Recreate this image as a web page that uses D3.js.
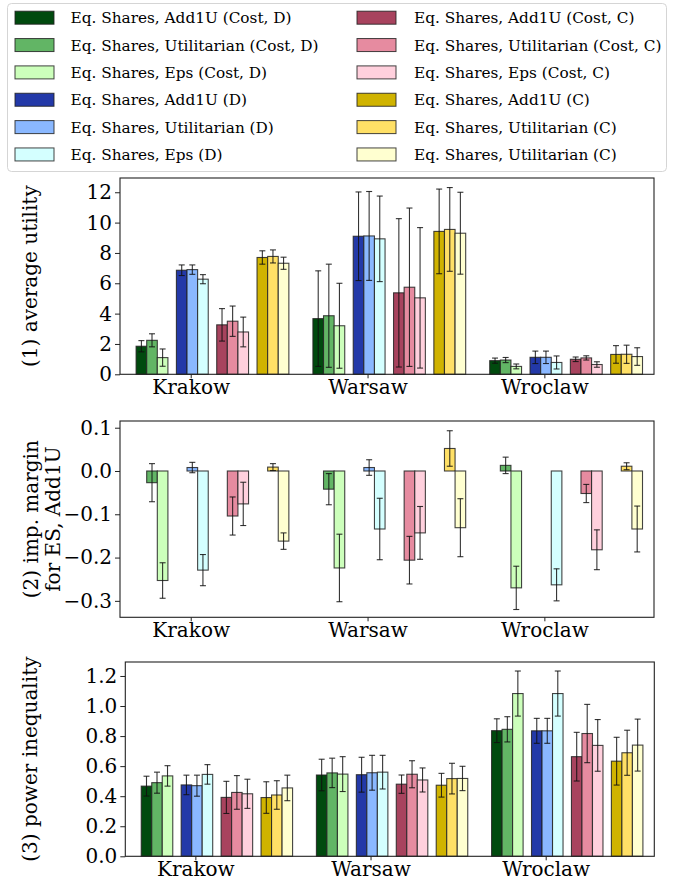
<!DOCTYPE html>
<html>
<head>
<meta charset="utf-8">
<script src="https://cdn.jsdelivr.net/npm/d3@7"></script>
<style>
  body { margin: 0; background: #fff; }
</style>
</head>
<body>
<script>
// cities on the x axis
var cities = ["Krakow", "Warsaw", "Wroclaw"];

var seriesNames = [
  "Eq. Shares, Add1U (Cost, D)", "Eq. Shares, Utilitarian (Cost, D)", "Eq. Shares, Eps (Cost, D)",
  "Eq. Shares, Add1U (D)", "Eq. Shares, Utilitarian (D)", "Eq. Shares, Eps (D)",
  "Eq. Shares, Add1U (Cost, C)", "Eq. Shares, Utilitarian (Cost, C)", "Eq. Shares, Eps (Cost, C)",
  "Eq. Shares, Add1U (C)", "Eq. Shares, Utilitarian (C)", "Eq. Shares, Utilitarian (C)"
];

var seriesColors = [
  "#004a0e", "#62b565", "#ccffbb",
  "#2339a8", "#8ab8ff", "#d4ffff",
  "#a8435e", "#e68ba0", "#ffd0dd",
  "#d0b300", "#ffe066", "#ffffd0"
];

// (1) average utility, one row per series, one value per city
var utilityMean = [
  [1.85, 3.67, 0.9], [2.24, 3.86, 0.94], [1.1, 3.2, 0.52],
  [6.86, 9.1, 1.12], [6.9, 9.12, 1.12], [6.27, 8.93, 0.78],
  [3.26, 5.37, 0.99], [3.5, 5.74, 1.08], [2.79, 5.04, 0.645],
  [7.7, 9.42, 1.31], [7.77, 9.55, 1.32], [7.32, 9.3, 1.17]
];
var utilityErr = [
  [0.37, 3.15, 0.17], [0.43, 3.4, 0.17], [0.57, 2.8, 0.16],
  [0.35, 2.92, 0.41], [0.31, 2.93, 0.41], [0.3, 2.82, 0.43],
  [1.07, 4.89, 0.15], [1.0, 5.22, 0.14], [0.98, 4.63, 0.18],
  [0.44, 2.79, 0.58], [0.43, 2.76, 0.6], [0.4, 2.7, 0.58]
];

// (2) improvement margin vs ES Add1U (Add1U rows are not drawn)
var marginMean = [
  null, [-0.027, -0.042, 0.013], [-0.253, -0.224, -0.27],
  null, [0.008, 0.008, 0.0], [-0.229, -0.134, -0.263],
  null, [-0.104, -0.206, -0.052], [-0.076, -0.143, -0.182],
  null, [0.009, 0.052, 0.011], [-0.162, -0.131, -0.134]
];
var marginErr = [
  null, [0.044, 0.036, 0.019], [0.041, 0.078, 0.05],
  null, [0.012, 0.018, null], [0.036, 0.071, 0.037],
  null, [0.044, 0.055, 0.021], [0.05, 0.061, 0.046],
  null, [0.008, 0.041, 0.008], [0.019, 0.067, 0.053]
];

// (3) power inequality
var inequalityMean = [
  [0.467, 0.541, 0.836], [0.49, 0.555, 0.845], [0.535, 0.547, 1.083],
  [0.475, 0.543, 0.835], [0.47, 0.556, 0.835], [0.545, 0.56, 1.083],
  [0.392, 0.48, 0.663], [0.425, 0.546, 0.817], [0.416, 0.508, 0.738],
  [0.391, 0.473, 0.633], [0.408, 0.517, 0.689], [0.455, 0.518, 0.74]
];
var inequalityErr = [
  [0.066, 0.105, 0.079], [0.07, 0.098, 0.084], [0.068, 0.116, 0.15],
  [0.065, 0.116, 0.083], [0.07, 0.116, 0.083], [0.065, 0.112, 0.15],
  [0.107, 0.061, 0.162], [0.112, 0.09, 0.194], [0.097, 0.08, 0.172],
  [0.105, 0.079, 0.159], [0.095, 0.102, 0.15], [0.085, 0.081, 0.173]
];

var utilityTicks = [0, 2, 4, 6, 8, 10, 12];
var marginTicks = [-0.3, -0.2, -0.1, 0.0, 0.1];
var inequalityTicks = [0, 0.2, 0.4, 0.6, 0.8, 1.0, 1.2];

var W = 675, H = 884;
var barW = 0.06, groupStep = 0.228, firstBar = -0.279;
var serif = "DejaVu Serif";

var svg = d3.select("body").append("svg")
    .attr("width", W)
    .attr("height", H)
    .attr("font-family", serif);

function fmtMinus(f) {
  return function(d) { return f(d).replace("-", "\u2212"); };
}

function drawPanel(opts) {
  var x = d3.scaleLinear().domain([-0.4, 2.62]).range([opts.left, opts.right]);
  var y = d3.scaleLinear().domain(opts.ydom).range([opts.bottom, opts.top]);
  var g = svg.append("g");

  // bars
  opts.mean.forEach(function(row, k) {
    if (row == null) return;
    var s = Math.floor(k / 3), j = k % 3;
    var off = firstBar + s * groupStep + j * barW;
    row.forEach(function(v, c) {
      var cx = x(c + off);
      var bw = x(barW) - x(0);
      g.append("rect")
        .attr("x", cx - bw / 2)
        .attr("width", bw)
        .attr("y", Math.min(y(v), y(0)))
        .attr("height", Math.abs(y(v) - y(0)))
        .attr("fill", seriesColors[k])
        .attr("stroke", "#222")
        .attr("stroke-opacity", 0.85)
        .attr("stroke-width", 1.1);
    });
  });

  // error bars on top
  opts.mean.forEach(function(row, k) {
    if (row == null) return;
    var s = Math.floor(k / 3), j = k % 3;
    var off = firstBar + s * groupStep + j * barW;
    row.forEach(function(v, c) {
      var e = opts.err[k][c];
      if (e == null) return;
      var cx = x(c + off);
      var y1 = y(v + e), y2 = y(v - e);
      var eg = g.append("g")
        .attr("stroke", "#111")
        .attr("stroke-opacity", 0.85)
        .attr("stroke-width", 1.1);
      eg.append("line").attr("x1", cx).attr("x2", cx).attr("y1", y1).attr("y2", y2);
      eg.append("line").attr("x1", cx - 3).attr("x2", cx + 3).attr("y1", y1).attr("y2", y1);
      eg.append("line").attr("x1", cx - 3).attr("x2", cx + 3).attr("y1", y2).attr("y2", y2);
    });
  });

  // axes
  var ya = g.append("g")
    .attr("transform", "translate(" + opts.left + ",0)")
    .call(d3.axisLeft(y).tickValues(opts.ticks).tickFormat(opts.fmt).tickSize(5).tickPadding(3));
  var xa = g.append("g")
    .attr("transform", "translate(0," + opts.bottom + ")")
    .call(d3.axisBottom(x).tickValues([0, 1, 2]).tickFormat(function(d) { return cities[d]; }).tickSize(4).tickPadding(2));
  [ya, xa].forEach(function(a) {
    a.attr("font-family", serif).attr("font-size", 20);
    a.select(".domain").remove();
    a.selectAll("text").attr("fill", "#000");
    a.selectAll("line").attr("stroke", "#222");
  });

  g.append("rect")
    .attr("x", opts.left).attr("y", opts.top)
    .attr("width", opts.right - opts.left)
    .attr("height", opts.bottom - opts.top)
    .attr("fill", "none")
    .attr("stroke", "#222")
    .attr("stroke-width", 1.1);

  // y label
  var cy = (opts.top + opts.bottom) / 2;
  opts.label.forEach(function(t, i) {
    g.append("text")
      .attr("transform", "translate(" + opts.labelX[i] + "," + cy + ") rotate(-90)")
      .attr("text-anchor", "middle")
      .attr("font-size", 20)
      .text(t);
  });
}

drawPanel({
  left: 120, right: 654, top: 178, bottom: 374.3,
  ydom: [0, 12.94], ticks: utilityTicks, fmt: d3.format("d"),
  mean: utilityMean, err: utilityErr,
  label: ["(1) average utility"], labelX: [37]
});

drawPanel({
  left: 120, right: 654, top: 421, bottom: 617.3,
  ydom: [-0.338, 0.1155], ticks: marginTicks, fmt: fmtMinus(d3.format(".1f")),
  mean: marginMean, err: marginErr,
  label: ["(2) imp. margin", "for ES, Add1U"], labelX: [38, 60]
});

drawPanel({
  left: 125.3, right: 654.3, top: 662, bottom: 856.3,
  ydom: [0, 1.293], ticks: inequalityTicks, fmt: d3.format(".1f"),
  mean: inequalityMean, err: inequalityErr,
  label: ["(3) power inequality"], labelX: [37]
});

// legend
var leg = svg.append("g");
leg.append("rect")
  .attr("x", 7.5).attr("y", 3.5)
  .attr("width", 659).attr("height", 168)
  .attr("rx", 4)
  .attr("fill", "#fff")
  .attr("stroke", "#d5d5d5");

seriesNames.forEach(function(name, k) {
  var col = Math.floor(k / 6), row = k % 6;
  var sx = col == 0 ? 15 : 357;
  var tx = col == 0 ? 70.5 : 414;
  var cy = 17.7 + row * 27.35;
  leg.append("rect")
    .attr("x", sx).attr("y", cy - 6.5)
    .attr("width", 39).attr("height", 13)
    .attr("fill", seriesColors[k])
    .attr("stroke", "#222")
    .attr("stroke-opacity", 0.85);
  leg.append("text")
    .attr("x", tx).attr("y", cy + 5.5)
    .attr("font-size", 15.3)
    .text(name);
});
</script>
</body>
</html>
